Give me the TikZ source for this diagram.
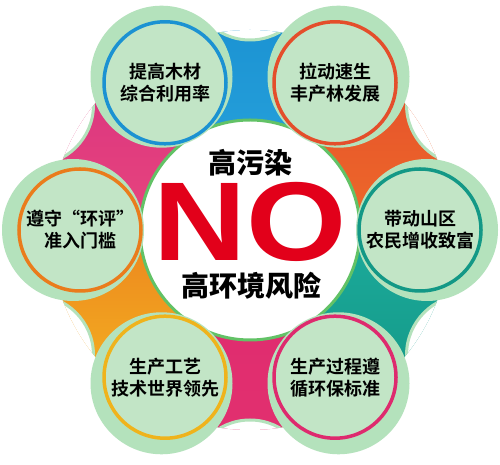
\documentclass[tikz,border=0pt]{standalone}
\usepackage{fontspec}
\usepackage{tikz}
\usetikzlibrary{calc}
\setmainfont{Liberation Sans}
\newfontfamily\cjkbold{Noto Sans CJK SC Bold}
\newfontfamily\cjkheavy{Noto Sans CJK SC Black}
\definecolor{HaloGreen}{HTML}{B4E2BC}
\definecolor{DiskGreen}{HTML}{C2E5C6}
\definecolor{HubGreen}{HTML}{62C266}
\definecolor{NoRed}{HTML}{E2001A}
\definecolor{BlueA}{HTML}{1B92D2}
\definecolor{BlueB}{HTML}{2BA7DF}
\definecolor{RedA}{HTML}{E44E2B}
\definecolor{RedB}{HTML}{EE6A2A}
\definecolor{TealA}{HTML}{1CAA9B}
\definecolor{TealB}{HTML}{139886}
\definecolor{PinkA}{HTML}{DE2A6E}
\definecolor{PinkB}{HTML}{E2306F}
\definecolor{AmberA}{HTML}{EC851E}
\definecolor{AmberB}{HTML}{F5B621}
\definecolor{MagA}{HTML}{D8337F}
\definecolor{MagB}{HTML}{E8457E}
\definecolor{RimYellow}{HTML}{EFB31C}
\definecolor{RimOrange}{HTML}{EA7C1C}

\tikzset{
  halo/.style={circle, minimum size=142pt, inner sep=0pt, fill=HaloGreen},
  bubble/.style={circle, minimum size=122pt, inner sep=0pt, fill=DiskGreen,
    line width=3.5pt, align=center, font=\cjkbold\fontsize{18}{22}\selectfont},
  hubtext/.style={inner sep=0pt, font=\cjkheavy\fontsize{28}{28}\selectfont},
}

\begin{document}
\begin{tikzpicture}[x=1pt, y=1pt]
\fill[white] (0,0) rectangle (500,465);
\useasboundingbox (0,0) rectangle (500,465);
\coordinate (c) at (250,235);

% Coloured band between the bubbles, with concave outer notches
\begin{scope}
\clip (c) circle[radius=200];
\foreach \a/\ca/\cb in {90/BlueA/BlueB, 30/RedA/RedB, -30/TealA/TealB,
  -90/PinkA/PinkB, -150/AmberA/AmberB, 150/MagA/MagB}
{
  \shade[top color=\ca, bottom color=\cb] (c) -- ($(c)+(\a-30:205)$)
    arc[start angle=\a-30, end angle=\a+30, radius=205] -- cycle;
}
\foreach \a in {90,30,-30,-90,-150,150}
  \fill[white, draw=HaloGreen, line width=3pt] ($(c)+(\a:250)$) circle[radius=60];
\end{scope}

% Hub
\node[circle, fill=white, draw=HubGreen, line width=3pt, minimum size=220pt] (hub) at (c) {};
\node[inner sep=0pt, text=NoRed, font=\bfseries\fontsize{112}{112}\selectfont]
  (no) at (250,243) {\scalebox{1.15}[1]{NO}};
\node[hubtext] (pollution) at (250,302) {高污染};
\node[hubtext] (risk) at (251,179) {高环境风险};

% Six bubbles round the hub
\foreach \a/\name/\col/\txt in {
  120/wood/BlueA/{提高木材\\综合利用率},
  60/forest/RedA/{拉动速生\\丰产林发展},
  0/farmers/TealB/{带动山区\\农民增收致富},
  -60/standard/PinkA/{生产过程遵\\循环保标准},
  -120/craft/RimYellow/{生产工艺\\技术世界领先},
  180/review/RimOrange/{遵守“环评”\\准入门槛}}
{
  \node[halo] (\name-halo) at ($(c)+(\a:177)$) {};
  \node[bubble, draw=\col] (\name) at ($(c)+(\a:170)$) {\txt};
}
\end{tikzpicture}
\end{document}
